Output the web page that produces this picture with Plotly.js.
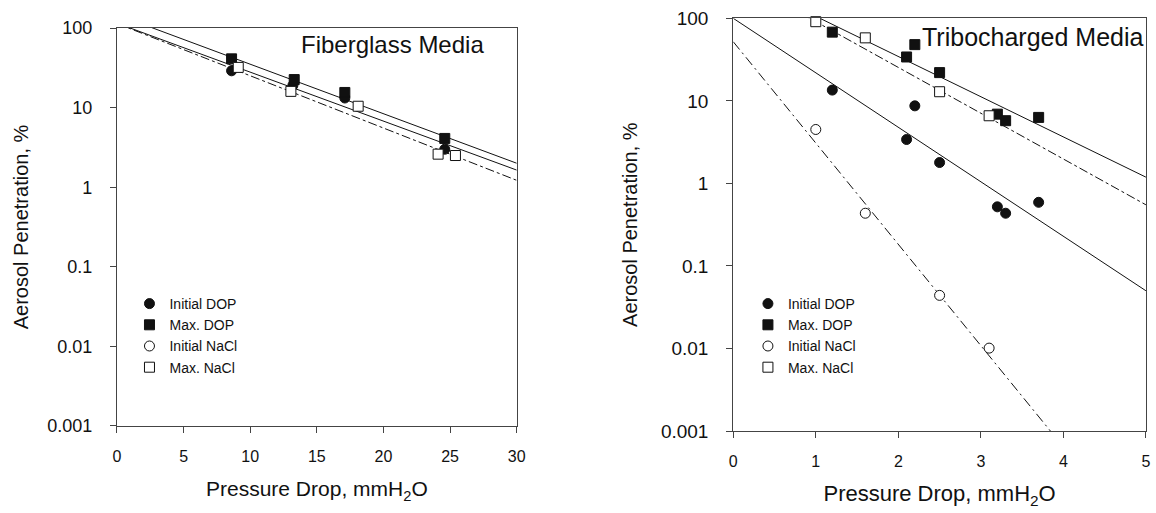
<!DOCTYPE html>
<html><head><meta charset="utf-8">
<script src="https://cdn.plot.ly/plotly-3.0.1.min.js"></script>
<style>body{margin:0;background:#fff}#chart{width:1156px;height:513px}</style>
</head><body><div id="chart"></div>
<script>
// ---- Fiberglass Media (left panel) ----
const fgInitDOPx = [8.6, 13.2, 17.1, 24.6];
const fgInitDOPy = [29, 19, 13.2, 3.0];
const fgMaxDOPx = [8.6, 13.3, 17.1, 24.6];
const fgMaxDOPy = [41, 22.5, 15.5, 4.1];
const fgInitNaClx = [null];   // hidden under the other markers in the reference
const fgInitNaCly = [null];
const fgMaxNaClx = [9.1, 13.05, 18.1, 24.1, 25.4];
const fgMaxNaCly = [32, 16, 10.4, 2.6, 2.5];
// fit line end points (x range 0..30)
const fgFitX = [0, 30];
const fgFitMaxDOP = [147, 2.0];
const fgFitInitDOP = [115, 1.64];
const fgFitNaCl = [114, 1.22];

// ---- Tribocharged Media (right panel) ----
const trInitDOPx = [1.2, 2.1, 2.2, 2.5, 3.2, 3.3, 3.7];
const trInitDOPy = [13.5, 3.4, 8.7, 1.79, 0.52, 0.435, 0.59];
const trMaxDOPx = [1.2, 2.1, 2.2, 2.5, 3.2, 3.3, 3.7];
const trMaxDOPy = [68, 34, 48, 22, 6.9, 5.75, 6.3];
const trInitNaClx = [1.0, 1.6, 2.5, 3.1];
const trInitNaCly = [4.5, 0.435, 0.044, 0.0101];
const trMaxNaClx = [1.0, 1.6, 2.5, 3.1];
const trMaxNaCly = [91, 58, 12.9, 6.6];
const trFitX = [0, 5];
const trFitInitDOP = [100, 0.05];
const trFitMaxDOP = [325, 1.19];
const trFitMaxNaCl = [327, 0.55];
const trFitInitNaCl = [52, 0.000038];

const legendNames = ['Initial DOP', 'Max. DOP', 'Initial NaCl', 'Max. NaCl'];

const blk = '#111';
const mk = {
  initDOP: {symbol: 'circle', size: 10, color: blk, line: {color: blk, width: 1}},
  maxDOP: {symbol: 'square', size: 10, color: blk, line: {color: blk, width: 1}},
  initNaCl: {symbol: 'circle', size: 10, color: '#fff', line: {color: blk, width: 1}},
  maxNaCl: {symbol: 'square', size: 10, color: '#fff', line: {color: blk, width: 1}}
};
function fit(x, y, xa, ya, dash) {
  return {x: x, y: y, xaxis: xa, yaxis: ya, mode: 'lines', showlegend: false, hoverinfo: 'skip',
    line: {color: blk, width: 1, dash: dash}};
}
function pts(x, y, xa, ya, name, m, lg) {
  return {x: x, y: y, xaxis: xa, yaxis: ya, mode: 'markers', name: name, marker: m, legend: lg, cliponaxis: false};
}
const data = [
  fit(fgFitX, fgFitMaxDOP, 'x', 'y', 'solid'),
  fit(fgFitX, fgFitInitDOP, 'x', 'y', 'solid'),
  fit(fgFitX, fgFitNaCl, 'x', 'y', 'dashdot'),
  pts(fgInitDOPx, fgInitDOPy, 'x', 'y', legendNames[0], mk.initDOP, 'legend'),
  pts(fgMaxDOPx, fgMaxDOPy, 'x', 'y', legendNames[1], mk.maxDOP, 'legend'),
  pts(fgInitNaClx, fgInitNaCly, 'x', 'y', legendNames[2], mk.initNaCl, 'legend'),
  pts(fgMaxNaClx, fgMaxNaCly, 'x', 'y', legendNames[3], mk.maxNaCl, 'legend'),

  fit(trFitX, trFitInitDOP, 'x2', 'y2', 'solid'),
  fit(trFitX, trFitMaxDOP, 'x2', 'y2', 'solid'),
  fit(trFitX, trFitMaxNaCl, 'x2', 'y2', 'dashdot'),
  fit(trFitX, trFitInitNaCl, 'x2', 'y2', '10px,4px,2px,4px'),
  pts(trInitDOPx, trInitDOPy, 'x2', 'y2', legendNames[0], mk.initDOP, 'legend2'),
  pts(trMaxDOPx, trMaxDOPy, 'x2', 'y2', legendNames[1], mk.maxDOP, 'legend2'),
  pts(trInitNaClx, trInitNaCly, 'x2', 'y2', legendNames[2], mk.initNaCl, 'legend2'),
  pts(trMaxNaClx, trMaxNaCly, 'x2', 'y2', legendNames[3], mk.maxNaCl, 'legend2')
];

const font = {family: 'Liberation Sans, Arial, sans-serif', color: '#111'};
const axCommon = {showgrid: false, zeroline: false, showline: true, linecolor: '#444', linewidth: 1,
  mirror: true, ticks: 'outside', ticklen: 6, tickcolor: '#444', tickfont: {size: 16, color: '#111'}};
const yTickVals = [0.001, 0.01, 0.1, 1, 10, 100];
const yTickText = ['0.001', '0.01', '0.1', '1', '10', '100'];
const layout = {
  width: 1156, height: 513,
  margin: {l: 0, r: 0, t: 0, b: 0},
  paper_bgcolor: '#fff', plot_bgcolor: '#fff',
  font: font,
  showlegend: true,
  xaxis: Object.assign({}, axCommon, {domain: [0.1012, 0.4470], range: [0, 30], tickvals: [0,5,10,15,20,25,30],
    anchor: 'y', ticklabelstandoff: 10,
    title: {text: 'Pressure Drop, mmH<sub>2</sub>O', font: {size: 21}, standoff: 17}}),
  yaxis: Object.assign({}, axCommon, {domain: [0.1696, 0.9454], type: 'log', range: [-3, 2],
    tickvals: yTickVals, ticktext: yTickText, anchor: 'x', ticklabelstandoff: 14, tickfont: {size: 18, color: '#111'},
    title: {text: 'Aerosol Penetration, %', font: {size: 20}, standoff: 13}}),
  xaxis2: Object.assign({}, axCommon, {domain: [0.6343, 0.9913], range: [0, 5], tickvals: [0,1,2,3,4,5],
    anchor: 'y2', ticklabelstandoff: 10,
    title: {text: 'Pressure Drop, mmH<sub>2</sub>O', font: {size: 22}, standoff: 16}}),
  yaxis2: Object.assign({}, axCommon, {domain: [0.1598, 0.9643], type: 'log', range: [-3, 2],
    tickvals: yTickVals, ticktext: yTickText, anchor: 'x2', ticklabelstandoff: 14, tickfont: {size: 19, color: '#111'},
    title: {text: 'Aerosol Penetration, %', font: {size: 20}, standoff: 17}}),
  legend: {x: 0.112, y: 0.4386, xanchor: 'left', yanchor: 'top', bgcolor: 'rgba(0,0,0,0)',
    font: {size: 14, color: '#111'}, itemwidth: 30, tracegroupgap: 0},
  legend2: {x: 0.647, y: 0.4386, xanchor: 'left', yanchor: 'top', bgcolor: 'rgba(0,0,0,0)',
    font: {size: 14, color: '#111'}, itemwidth: 30, tracegroupgap: 0},
  annotations: [
    {text: 'Fiberglass Media', xref: 'paper', yref: 'paper', x: 392/1156, y: 1 - 44/513,
      xanchor: 'center', yanchor: 'middle', showarrow: false, font: {size: 24, color: '#111'}},
    {text: 'Tribocharged Media', xref: 'paper', yref: 'paper', x: 1033/1156, y: 1 - 37/513,
      xanchor: 'center', yanchor: 'middle', showarrow: false, font: {size: 25, color: '#111'}}
  ]
};
Plotly.newPlot('chart', data, layout, {displayModeBar: false, staticPlot: true});
</script></body></html>
